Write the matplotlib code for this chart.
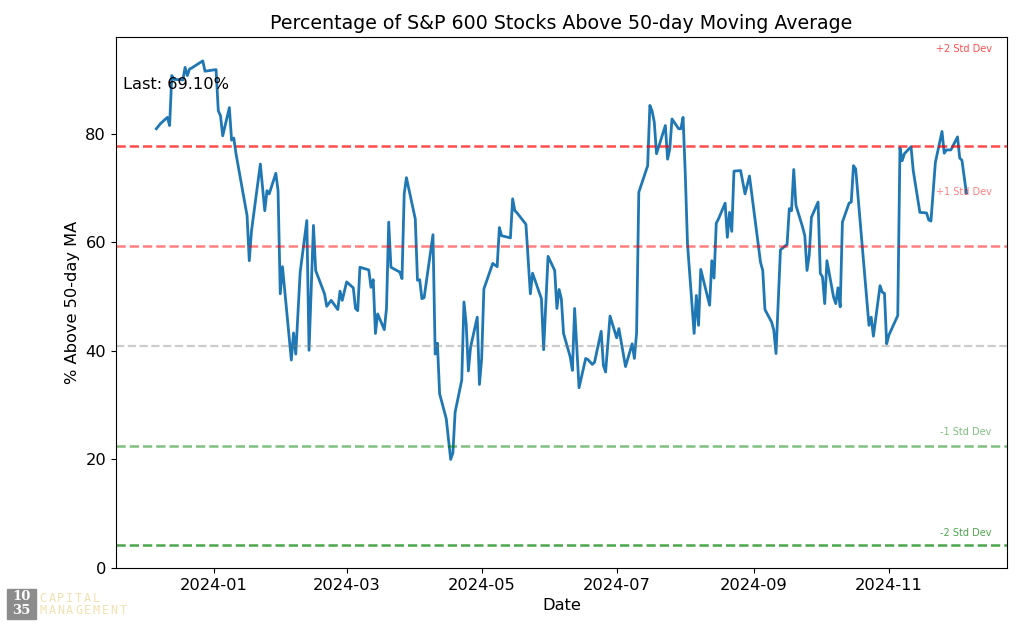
import pandas as pd
import numpy as np
import matplotlib
matplotlib.use("Agg")
import matplotlib.pyplot as plt
import matplotlib.dates as mdates
import matplotlib.transforms as mtransforms
from matplotlib.patches import Rectangle

# Series (percent of S&P 600 above 50-day MA)
dates = [
    "2023-12-06", "2023-12-08", "2023-12-11", "2023-12-12", "2023-12-13", "2023-12-14",
    "2023-12-18", "2023-12-19", "2023-12-20", "2023-12-21", "2023-12-22", "2023-12-27",
    "2023-12-28", "2024-01-02", "2024-01-03", "2024-01-04", "2024-01-05", "2024-01-08",
    "2024-01-09", "2024-01-10", "2024-01-11", "2024-01-16", "2024-01-17", "2024-01-18",
    "2024-01-22", "2024-01-24", "2024-01-25", "2024-01-26", "2024-01-29", "2024-01-30",
    "2024-01-31", "2024-02-01", "2024-02-05", "2024-02-06", "2024-02-07", "2024-02-09",
    "2024-02-12", "2024-02-13", "2024-02-15", "2024-02-16", "2024-02-20", "2024-02-21",
    "2024-02-23", "2024-02-26", "2024-02-27", "2024-02-28", "2024-03-01", "2024-03-04",
    "2024-03-05", "2024-03-06", "2024-03-07", "2024-03-11", "2024-03-12", "2024-03-13",
    "2024-03-14", "2024-03-15", "2024-03-18", "2024-03-19", "2024-03-20", "2024-03-21",
    "2024-03-25", "2024-03-26", "2024-03-27", "2024-03-28", "2024-04-01", "2024-04-02",
    "2024-04-03", "2024-04-04", "2024-04-05", "2024-04-09", "2024-04-10", "2024-04-11",
    "2024-04-12", "2024-04-15", "2024-04-17", "2024-04-18", "2024-04-19", "2024-04-22",
    "2024-04-23", "2024-04-24", "2024-04-25", "2024-04-26", "2024-04-29", "2024-04-30",
    "2024-05-01", "2024-05-02", "2024-05-06", "2024-05-08", "2024-05-09", "2024-05-10",
    "2024-05-13", "2024-05-14", "2024-05-15", "2024-05-16", "2024-05-17", "2024-05-21",
    "2024-05-23", "2024-05-24", "2024-05-28", "2024-05-29", "2024-05-31", "2024-06-03",
    "2024-06-04", "2024-06-05", "2024-06-06", "2024-06-07", "2024-06-10", "2024-06-11",
    "2024-06-12", "2024-06-14", "2024-06-17", "2024-06-18", "2024-06-20", "2024-06-21",
    "2024-06-24", "2024-06-25", "2024-06-26", "2024-06-28", "2024-07-01", "2024-07-02",
    "2024-07-05", "2024-07-08", "2024-07-09", "2024-07-10", "2024-07-11", "2024-07-15",
    "2024-07-16", "2024-07-17", "2024-07-18", "2024-07-19", "2024-07-23", "2024-07-24",
    "2024-07-25", "2024-07-26", "2024-07-29", "2024-07-30", "2024-07-31", "2024-08-01",
    "2024-08-02", "2024-08-05", "2024-08-06", "2024-08-07", "2024-08-08", "2024-08-12",
    "2024-08-13", "2024-08-14", "2024-08-15", "2024-08-16", "2024-08-19", "2024-08-20",
    "2024-08-21", "2024-08-22", "2024-08-23", "2024-08-26", "2024-08-28", "2024-08-30",
    "2024-09-03", "2024-09-04", "2024-09-05", "2024-09-06", "2024-09-09", "2024-09-10",
    "2024-09-11", "2024-09-13", "2024-09-16", "2024-09-17", "2024-09-18", "2024-09-19",
    "2024-09-20", "2024-09-23", "2024-09-24", "2024-09-25", "2024-09-26", "2024-09-27",
    "2024-09-30", "2024-10-01", "2024-10-02", "2024-10-03", "2024-10-04", "2024-10-07",
    "2024-10-08", "2024-10-09", "2024-10-10", "2024-10-11", "2024-10-14", "2024-10-15",
    "2024-10-16", "2024-10-17", "2024-10-23", "2024-10-24", "2024-10-25", "2024-10-28",
    "2024-10-29", "2024-10-30", "2024-10-31", "2024-11-01", "2024-11-05", "2024-11-06",
    "2024-11-07", "2024-11-08", "2024-11-11", "2024-11-12", "2024-11-15", "2024-11-18",
    "2024-11-19", "2024-11-20", "2024-11-22", "2024-11-25", "2024-11-26", "2024-11-27",
    "2024-11-29", "2024-12-02", "2024-12-03", "2024-12-04", "2024-12-06",
]

pct_above = [
    80.9, 81.9, 83.0, 81.5, 90.7, 90.0,
    89.9, 92.2, 90.7, 91.9, 92.1, 93.4,
    91.5, 91.8, 84.2, 83.3, 79.6, 84.8,
    78.8, 79.2, 76.3, 64.9, 56.6, 62.1,
    74.4, 65.8, 69.5, 68.9, 72.7, 69.5,
    50.5, 55.5, 38.3, 43.3, 39.4, 54.5,
    64.0, 40.1, 63.1, 54.8, 50.5, 48.2,
    49.3, 47.6, 51.0, 49.3, 52.7, 51.6,
    47.8, 47.4, 55.4, 54.9, 51.7, 53.1,
    43.2, 46.8, 43.9, 47.8, 63.7, 55.4,
    54.5, 53.3, 68.9, 71.9, 64.3, 53.0,
    53.1, 49.6, 49.8, 61.4, 39.4, 41.4,
    32.1, 27.5, 20.0, 21.2, 28.7, 34.6,
    49.0, 45.0, 36.3, 40.7, 46.2, 33.8,
    38.6, 51.4, 56.1, 55.5, 62.7, 61.2,
    60.9, 60.8, 68.0, 65.8, 65.4, 63.3,
    50.5, 54.3, 49.6, 40.2, 57.4, 54.8,
    47.8, 51.3, 49.6, 43.2, 38.9, 36.4,
    47.8, 33.2, 38.6, 38.4, 37.5, 37.9,
    43.6, 37.3, 36.1, 46.4, 42.4, 44.1,
    37.1, 41.3, 38.6, 43.3, 69.2, 74.1,
    85.2, 84.2, 82.1, 76.3, 81.5, 75.3,
    77.2, 82.7, 80.9, 80.9, 83.0, 72.6,
    59.7, 43.2, 50.2, 44.7, 55.0, 48.4,
    56.6, 53.4, 63.5, 64.3, 67.2, 60.9,
    65.5, 62.0, 73.1, 73.2, 68.9, 72.2,
    59.4, 56.3, 54.8, 47.6, 45.3, 43.8,
    39.5, 58.6, 59.6, 66.2, 65.8, 73.4,
    66.8, 62.8, 61.2, 54.8, 57.6, 64.6,
    67.4, 54.3, 53.6, 48.7, 56.6, 49.9,
    48.7, 51.6, 48.1, 63.7, 67.2, 67.4,
    74.1, 73.5, 44.7, 46.2, 42.7, 52.0,
    50.8, 50.6, 41.3, 42.9, 46.5, 77.4,
    75.0, 76.3, 77.6, 73.2, 65.5, 65.4,
    64.1, 63.9, 74.7, 80.4, 76.4, 77.0,
    77.0, 79.4, 75.5, 75.1, 69.1,
]

# Mean / std bands
band_mean = 40.95
band_std = 18.4
band_names = ["+2 Std Dev", "+1 Std Dev", "-1 Std Dev", "-2 Std Dev"]
band_mult = [2, 1, -1, -2]
band_label_y = [95.6, 69.3, 25.0, 6.4]
band_colors = ["red", "red", "green", "green"]
band_alpha = [0.7, 0.5, 0.5, 0.7]

last_value = pct_above[-1]

df = pd.DataFrame({"date": pd.to_datetime(dates), "pct": pct_above})

fig = plt.figure(figsize=(10.16, 6.24), dpi=100)
ax = fig.add_axes([0.114, 0.0897, 0.877, 0.851])

ax.plot(df["date"], df["pct"], color="#1f77b4", linewidth=2)

ax.axhline(band_mean, color="gray", linestyle="--", alpha=0.4, linewidth=1.6)

trans = mtransforms.blended_transform_factory(ax.transAxes, ax.transData)
for name, m, ly, c, a in zip(band_names, band_mult, band_label_y, band_colors, band_alpha):
    ax.axhline(band_mean + m * band_std, color=c, linestyle="--", alpha=a, linewidth=1.8)
    ax.text(0.983, ly, name, transform=trans, ha="right", va="center",
            fontsize=7, color=c, alpha=a)

ax.set_ylim(0, 97.8)

ax.text(0.008, 0.911, f"Last: {last_value:.2f}%", transform=ax.transAxes,
        ha="left", va="center", fontsize=11.7)

ax.set_title("Percentage of S&P 600 Stocks Above 50-day Moving Average", fontsize=13.7)
ax.set_xlabel("Date", fontsize=11.7)
ax.set_ylabel("% Above 50-day MA", fontsize=11.7)
ax.tick_params(labelsize=11.7)

ax.xaxis.set_major_locator(mdates.MonthLocator(bymonth=[1, 3, 5, 7, 9, 11]))
ax.xaxis.set_major_formatter(mdates.DateFormatter("%Y-%m"))

# Logo, bottom-left
fig.patches.append(Rectangle((7 / 1016, 1 - 619 / 624), 29 / 1016, 30 / 624,
                             transform=fig.transFigure, color="#8c8c8c", zorder=0))
fig.text(21.5 / 1016, 1 - 597 / 624, "10", color="white", fontsize=9.5,
         family="DejaVu Serif", weight="bold", ha="center", va="center")
fig.text(21.5 / 1016, 1 - 611 / 624, "35", color="white", fontsize=9.5,
         family="DejaVu Serif", weight="bold", ha="center", va="center")
for row, word in [(598, "CAPITAL"), (611, "MANAGEMENT")]:
    for i, ch in enumerate(word):
        fig.text((43 + i * 8.9) / 1016, 1 - row / 624, ch, color="#f0e2b0",
                 fontsize=8.5, family="DejaVu Sans Mono", ha="center", va="center")

fig.savefig("out.png", dpi=100)
